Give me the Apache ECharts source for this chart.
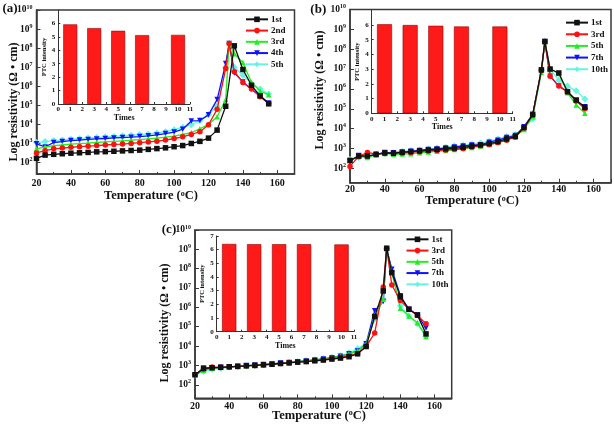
<!DOCTYPE html>
<html><head><meta charset="utf-8">
<script src="https://cdn.jsdelivr.net/npm/echarts@6/dist/echarts.min.js"></script>
<style>
body{margin:0;background:#fff;width:614px;height:425px;position:relative;overflow:hidden}
.p{position:absolute}
</style></head><body>
<div id="pa" class="p" style="left:0;top:0;width:305px;height:210px"></div>
<div id="pb" class="p" style="left:305px;top:0;width:309px;height:210px"></div>
<div id="pc" class="p" style="left:150px;top:205px;width:310px;height:220px"></div>
<script>
// ---------- DATA (log10 of resistivity) ----------
const temps = [20,25,30,35,40,45,50,55,60,65,70,75,80,85,90,95,100,105,110,115,120,125,130,132,135,140,145,150,155];

const namesA = ['1st','2nd','3rd','4th','5th'];
const a1st = [2.22,2.39,2.43,2.46,2.49,2.51,2.53,2.56,2.57,2.59,2.61,2.63,2.65,2.69,2.73,2.77,2.83,2.89,3.0,3.11,3.28,3.70,4.95,null,8.12,6.88,6.05,5.5,5.08];
const a2nd = [2.5,2.62,2.72,2.76,2.8,2.83,2.86,2.89,2.92,2.95,2.97,3.0,3.04,3.08,3.12,3.18,3.26,3.35,3.47,3.62,3.98,4.79,6.93,8.24,6.76,6.2,5.85,5.45,5.1];
const a3rd = [2.72,2.82,2.88,2.92,2.96,2.99,3.02,3.05,3.08,3.11,3.14,3.17,3.2,3.24,3.28,3.33,3.39,3.47,3.57,3.77,4.0,4.4,5.3,8.24,7.7,7.25,6.2,5.75,5.55];
const a4th = [2.98,2.82,3.05,3.1,3.15,3.18,3.21,3.24,3.26,3.29,3.31,3.33,3.36,3.4,3.45,3.52,3.6,3.75,4.18,4.2,4.5,5.3,7.19,8.24,6.7,6.23,5.85,5.5,5.12];
const a5th = [3.05,3.1,3.15,3.18,3.22,3.25,3.28,3.31,3.34,3.37,3.4,3.43,3.47,3.5,3.55,3.62,3.72,3.85,3.98,4.2,4.5,4.95,7.0,8.24,7.0,6.58,6.15,5.85,5.6];

const namesBC = ['1st','3rd','5th','7th','10th'];
const b1st = [2.4,2.62,2.62,2.7,2.78,2.76,2.8,2.84,2.88,2.92,2.95,2.98,3.02,3.06,3.12,3.18,3.25,3.35,3.48,3.6,4.05,4.7,6.95,8.38,7.0,6.8,5.86,5.44,5.07];
const b3rd = [2.1,2.6,2.8,2.72,2.75,2.75,2.78,2.8,2.84,2.88,2.9,2.93,2.96,3.0,3.08,3.14,3.2,3.3,3.42,3.58,4.05,4.7,6.95,8.38,6.64,6.14,5.86,5.39,5.0];
const b5th = [2.4,2.6,2.55,2.68,2.75,2.7,2.72,2.74,2.78,2.82,2.86,2.9,2.95,3.0,3.05,3.12,3.2,3.3,3.45,3.62,3.95,4.6,6.82,8.38,6.98,6.78,5.8,5.19,4.77];
const b7th = [2.35,2.65,2.6,2.7,2.8,2.78,2.82,2.86,2.9,2.95,2.98,3.02,3.08,3.12,3.18,3.18,3.32,3.42,3.55,3.65,4.1,4.72,6.95,8.38,6.64,6.14,5.86,5.39,5.1];
const b10th = [2.45,2.55,2.6,2.68,2.75,2.8,2.85,2.9,2.92,2.97,3.02,3.06,3.12,3.16,3.22,3.28,3.36,3.48,3.6,3.7,4.07,4.48,6.95,8.38,6.98,6.44,6.14,5.9,5.49];

const c1st = [2.52,2.85,2.88,2.9,2.93,2.95,2.98,3.0,3.03,3.06,3.1,3.13,3.17,3.2,3.24,3.28,3.33,3.38,3.45,3.6,3.98,5.53,6.85,9.05,7.8,6.55,5.9,5.6,4.63];
const c3rd = [2.5,2.8,2.92,2.9,2.92,2.95,2.98,3.0,3.03,3.07,3.1,3.14,3.18,3.2,3.25,3.3,3.35,3.42,3.5,3.62,3.98,4.67,7.05,9.05,7.16,6.35,5.9,5.6,5.15];
const c5th = [2.55,2.75,2.85,2.9,2.93,2.96,2.99,3.02,3.05,3.09,3.12,3.16,3.2,3.24,3.28,3.33,3.4,3.48,3.6,3.75,4.1,5.5,6.42,9.05,7.8,5.95,5.56,5.2,4.5];
const c7th = [2.5,2.85,2.88,2.9,2.93,2.96,2.99,3.02,3.05,3.08,3.12,3.15,3.19,3.23,3.28,3.33,3.4,3.48,3.6,3.75,4.12,5.83,6.3,9.05,7.97,6.6,5.9,5.62,4.93];
const c10th = [2.5,2.68,2.8,2.85,2.9,2.94,2.97,3.0,3.04,3.08,3.12,3.16,3.2,3.25,3.3,3.36,3.42,3.5,3.65,3.86,4.15,5.39,6.42,9.05,7.85,6.08,5.56,5.15,4.49];

const times = [1,3,5,7,10];
const ptcA = [5.93,5.65,5.45,5.13,5.15];
const ptcB = [6.05,6.0,5.95,5.9,5.9];
const ptcC = [6.42,6.4,6.4,6.4,6.38];

// ---------- STYLE ----------
const F = '"Liberation Serif","Times New Roman",serif';
const colors = ['#111111','#ff1010','#22ee22','#1010ff','#66f5e2'];
const symbols = ['rect','circle','triangle','triangle','diamond'];
const rots = [0,0,0,180,0];

function build(id, cfg){
  const chart = echarts.init(document.getElementById(id), null, {renderer:'canvas'});
  const series = cfg.logs.map((arr,i)=>({
    type:'line', name:cfg.names[i], xAxisIndex:0, yAxisIndex:0,
    data: temps.map((t,j)=> arr[j]==null ? null : [t, Math.pow(10, arr[j])]).filter(d=>d),
    symbol:symbols[i], symbolRotate:rots[i], symbolSize: i===4?7:5.5,
    lineStyle:{width:1.3,color:colors[i]}, itemStyle:{color:colors[i]},
    z: 10-i, animation:false
  }));
  series.push({type:'bar', xAxisIndex:1, yAxisIndex:1, data: times.map((t,i)=>[t,cfg.bars[i]]),
    barWidth: cfg.barW, itemStyle:{color:'#ff1a1a', borderColor:'#9a0000', borderWidth:0.6}, animation:false});
  const g = cfg.grid, ig = cfg.inset;
  const lbl = {fontFamily:F, fontWeight:'bold', color:'#111'};
  chart.setOption({
    animation:false,
    grid:[
      {left:g.left, top:g.top, width:g.width, height:g.height, show:true, borderColor:'#3a3a3a', borderWidth:1.5},
      {left:ig.left, top:ig.top, width:ig.width, height:ig.height}
    ],
    xAxis:[
      {gridIndex:0, type:'value', min:20, max:170, interval:20,
       axisLine:{show:true, lineStyle:{color:'#3a3a3a', width:1.5}},
       axisTick:{show:true, inside:true, length:4, lineStyle:{color:'#3a3a3a'}},
       minorTick:{show:true, splitNumber:2, length:2, lineStyle:{color:'#3a3a3a'}},
       splitLine:{show:false},
       axisLabel:Object.assign({fontSize:10, margin:cfg.xMargin, showMaxLabel:false}, lbl)},
      {gridIndex:1, type:'value', min:0, max:11, interval:1,
       axisLine:{show:true, lineStyle:{color:'#333', width:1}},
       axisTick:{show:true, inside:true, length:2},
       splitLine:{show:false},
       axisLabel:Object.assign({fontSize:7, margin:2}, lbl),
       name:'Times', nameLocation:'middle', nameGap:cfg.timesGap,
       nameTextStyle:Object.assign({fontSize:8}, lbl)}
    ],
    yAxis:[
      {gridIndex:0, type:'log', logBase:10, min:cfg.ymin, max:1e10,
       axisLine:{show:true, lineStyle:{color:'#3a3a3a', width:1.5}},
       axisTick:{show:true, inside:true, length:4, lineStyle:{color:'#3a3a3a'}},
       splitLine:{show:false},
       axisLabel:{margin:4, formatter:function(v){
           const e = Math.log10(v); const r = Math.round(e);
           if (Math.abs(e-r) > 1e-6) return '';
           return '{b|10}{s|'+r+'}';
         },
         rich:{b:Object.assign({fontSize:9.5, lineHeight:12, verticalAlign:'middle'}, lbl),
               s:Object.assign({fontSize:6, verticalAlign:'top'}, lbl)}}},
      {gridIndex:1, type:'value', min:0, max:7, interval:1,
       axisLine:{show:true, lineStyle:{color:'#333', width:1}},
       axisTick:{show:true, inside:true, length:2},
       splitLine:{show:false},
       axisLabel:Object.assign({fontSize:7, margin:3, showMaxLabel:cfg.showMax}, lbl),
       name:'PTC intensity', nameLocation:'middle', nameGap:cfg.ptcGap, nameRotate:90,
       nameTextStyle:Object.assign({fontSize:6.5}, lbl)}
    ],
    legend:{orient:'vertical', left:cfg.legend.left, top:cfg.legend.top, itemWidth:22, itemHeight:7,
      itemGap:cfg.legend.gap, padding:0, data:cfg.names,
      textStyle:Object.assign({fontSize:9, lineHeight:9.25, padding:[0,0,0,-2]}, lbl)},
    graphic:[
      {type:'text', x:cfg.lab.x, y:cfg.lab.y, style:{text:cfg.label, fontFamily:F, fontWeight:'bold', fontSize:13, fill:'#111', align:'center', verticalAlign:'middle', textAlign:'center', textVerticalAlign:'middle'}},
      {type:'text', x:cfg.yt.x, y:cfg.yt.y, rotation:Math.PI/2,
       style:{text:'Log resistivity (Ω • cm)', fontFamily:F, fontWeight:'bold', fontSize:12, fill:'#111', align:'center', verticalAlign:'middle', textAlign:'center', textVerticalAlign:'middle'}},
      {type:'text', x:cfg.xt.x, y:cfg.xt.y,
       style:{text:'Temperature ({s|o}C)', fontFamily:F, fontWeight:'bold', fontSize:12.5, fill:'#111', align:'center', verticalAlign:'middle', textAlign:'center', textVerticalAlign:'middle',
         rich:{s:{fontFamily:F, fontWeight:'bold', fontSize:8, verticalAlign:'top', fill:'#111'}}}}
    ],
    series: series
  });
}

build('pa', {names:namesA, logs:[a1st,a2nd,a3rd,a4th,a5th], bars:ptcA, barW:14,
  grid:{left:36.5, top:10, width:258, height:164}, ymin:25, xMargin:4,
  inset:{left:58.3, top:10, width:131.7, height:94}, showMax:false, timesGap:7.5, ptcGap:9,
  legend:{left:245, top:14.7, gap:2}, label:'(a)', lab:{x:10,y:9}, yt:{x:14,y:102}, xt:{x:151,y:196}});
build('pb', {names:namesBC, logs:[b1st,b3rd,b5th,b7th,b10th], bars:ptcB, barW:15,
  grid:{left:45, top:9.4, width:261, height:173.3}, ymin:19, xMargin:2,
  inset:{left:66.7, top:10.3, width:141, height:103}, showMax:false, timesGap:8.5, ptcGap:9,
  legend:{left:260, top:18, gap:2.4}, label:'(b)', lab:{x:13.3,y:9.3}, yt:{x:15,y:90}, xt:{x:167,y:201}});
build('pc', {names:namesBC, logs:[c1st,c3rd,c5th,c7th,c10th], bars:ptcC, barW:14.3,
  grid:{left:45, top:25, width:256.7, height:168.3}, ymin:20, xMargin:3.5,
  inset:{left:66.7, top:31, width:137.3, height:95.7}, showMax:true, timesGap:8.5, ptcGap:9,
  legend:{left:255.5, top:29.7, gap:2}, label:'(c)', lab:{x:19,y:25}, yt:{x:15,y:118}, xt:{x:169,y:210.7}});
</script>
</body></html>
